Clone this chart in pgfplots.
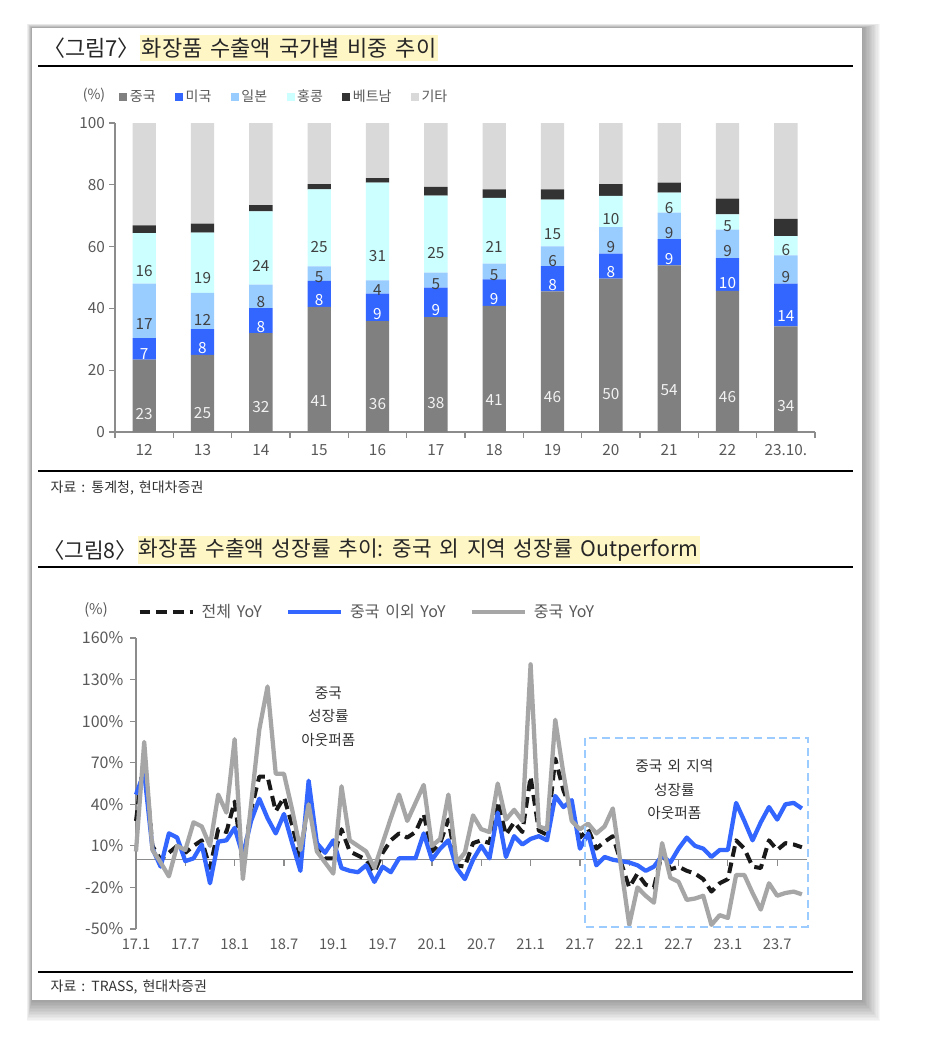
\documentclass[border=0pt]{standalone}
\usepackage{fontspec}
\setmainfont{Noto Sans CJK KR}[WordSpace=1.6]
\usepackage{pgfplots}
\pgfplotsset{compat=1.18}
\usepackage{pgfplotstable}

\definecolor{cn}{HTML}{808080}
\definecolor{us}{HTML}{3366FF}
\definecolor{jp}{HTML}{99CCFF}
\definecolor{hk}{HTML}{CCFFFF}
\definecolor{vn}{HTML}{333333}
\definecolor{ot}{HTML}{D9D9D9}
\definecolor{axisgray}{HTML}{8C8C8C}
\definecolor{labgray}{HTML}{595959}
\definecolor{hl}{HTML}{FFF6C6}
\definecolor{boxblue}{HTML}{9CCBFF}
\definecolor{lblue}{HTML}{3366FF}
\definecolor{lgray}{HTML}{A6A6A6}

\pgfplotstableread{
x  cn   us   jp   hk   vn  ot   cnL usL jpL hkL
0  23.4 7.0  17.6 16.4 2.5 33.1 23 7 17 16
1  25.0 8.3  11.7 19.5 2.9 32.6 25 8 12 19
2  32.0 8.1  7.6  23.7 2.0 26.6 32 8 8 24
3  40.5 8.4  4.7  24.9 1.7 19.8 41 8 5 25
4  35.9 8.9  4.3  31.6 1.5 17.8 36 9 4 31
5  37.2 9.5  4.9  24.9 2.8 20.7 38 9 5 25
6  40.8 8.6  5.1  21.3 2.7 21.5 41 9 5 21
7  45.5 8.2  6.4  15.1 3.3 21.5 46 8 6 15
8  49.6 8.1  8.6  10.1 3.8 19.8 50 8 9 10
9  53.9 8.5  8.6  6.5  3.2 19.3 54 9 9 6
10 45.7 10.6 9.2  4.9  5.1 24.5 46 10 9 5
11 34.2 13.8 9.2  6.2  5.6 31.0 34 14 9 6
}\bardata

\pgfplotstableread{
i tot non chn
0 28 47 6
1 75 63 85
2 10 8 7
3 0 -5 -2
4 5 19 -12
5 10 16 10
6 5 -1 7
7 10 1 27
8 14 11 24
9 -6 -17 10
10 22 13 47
11 20 14 34
12 42 23 87
13 -4 3 -14
14 36 28 40
15 60 44 94
16 60 30 125
17 35 19 62
18 45 33 62
19 25 12 36
20 1 -8 7
21 44 57 40
22 10 12 6
23 1 5 -2
24 1 14 -10
25 22 -6 53
26 6 -8 14
27 3 -9 10
28 0 -4 6
29 -9 -16 -6
30 5 -5 12
31 14 -9 30
32 19 1 47
33 16 1 28
34 20 1 41
35 33 19 54
36 6 0 10
37 12 8 15
38 29 14 47
39 -4 -6 -2
40 -5 -14 5
41 12 0 32
42 14 10 22
43 12 1 20
44 42 34 55
45 18 2 29
46 27 17 36
47 20 11 28
48 60 15 141
49 21 17 24
50 18 14 22
51 73 46 101
52 50 38 62
53 35 43 28
54 16 8 22
55 22 19 26
56 8 -4 19
57 13 2 24
58 17 0 37
59 -2 -1 -5
60 -20 -2 -47
61 -10 -4 -20
62 -18 -8 -26
63 -20 -5 -31
64 5 3 12
65 -7 -2 -13
66 -5 8 -16
67 -8 16 -29
68 -10 10 -28
69 -14 8 -26
70 -23 2 -47
71 -17 7 -40
72 -14 7 -42
73 14 41 -11
74 8 28 -11
75 -5 14 -24
76 -6 27 -36
77 14 38 -17
78 7 29 -26
79 12 40 -24
80 11 41 -23
81 9 37 -25
}\linedata

\begin{document}
\begin{tikzpicture}
\begin{scope}[x=0.75pt,y=-0.75pt]
\path[use as bounding box] (0,0) rectangle (926,1064);
\foreach \k in {1,...,14}{
  \fill[black,opacity=0.03] ({32-0.35*\k},{28-0.3*\k}) rectangle ({862+1.3*\k},{1000+1.5*\k});
}
\fill[white] (32,28) rectangle (862,1000);
% title 1
\node[anchor=west, inner xsep=0pt, font=\fontsize{16.5}{19}\selectfont, text=black!85] (t1) at (43,48) {〈그림7〉};
\node[anchor=west, inner xsep=1pt, inner ysep=2pt, fill=hl, font=\fontsize{16.5}{19}\selectfont, text=black!85] at (t1.east) {화장품 수출액 국가별 비중 추이};
\draw[line width=2pt] (38,66) -- (853,66);
\node[font=\fontsize{10.5}{12}\selectfont, text=labgray] at (94,95) {(\%)};
\draw[line width=2pt] (38,471) -- (853,471);
\node[anchor=west, font=\fontsize{10.5}{12}\selectfont, text=black!80] at (46,488) {자료 : 통계청, 현대차증권};
% title 2
\node[anchor=west, inner xsep=0pt, font=\fontsize{16}{19}\selectfont, text=black!85] (t2) at (43,550) {〈그림8〉};
\node[anchor=west, inner xsep=1pt, inner ysep=2pt, fill=hl, font=\fontsize{16}{19}\selectfont, text=black!85] at (t2.east) {화장품 수출액 성장률 추이: 중국 외 지역 성장률 Outperform};
\draw[line width=2pt] (38,567) -- (853,567);
\node[font=\fontsize{11}{12}\selectfont, text=labgray] at (96,610) {(\%)};
\draw[line width=2pt] (38,972) -- (853,972);
\node[anchor=west, font=\fontsize{10.5}{12}\selectfont, text=black!80] at (46,987) {자료 : TRASS, 현대차증권};
\end{scope}

% ---------------- bar chart ----------------
\begin{axis}[
  at={(86.25pt,-324pt)}, anchor=south west,
  scale only axis, width=525pt, height=231.75pt,
  xmin=-0.5, xmax=11.5, ymin=0, ymax=100,
  ybar stacked, bar width=17.5pt,
  axis lines*=left,
  axis line style={axisgray, line width=0.9pt},
  every tick/.style={axisgray, line width=0.9pt},
  tick align=outside,
  major tick length=0pt, minor tick length=4.5pt,
  ytick={0,20,40,60,80,100}, yticklabels={0,20,40,60,80,100},
  minor ytick={0,20,40,60,80,100},
  xtick={0,...,11}, xticklabels={12,13,14,15,16,17,18,19,20,21,22,23.10.},
  minor xtick={-0.5,0.5,...,11.5},
  tick label style={font=\fontsize{11.5}{13}\selectfont, text=labgray},
  yticklabel style={xshift=-4pt},
  xticklabel style={yshift=-6pt},
  legend columns=6,
  legend style={at={(0.0,1.084)}, anchor=west, draw=none, fill=none,
    font=\color{labgray}\fontsize{10.5}{12}\selectfont,
    /tikz/every even column/.append style={column sep=12.5pt}},
  legend image code/.code={\fill[#1] (0pt,-3pt) rectangle (6pt,3pt);},
  every node near coord/.append style={font=\fontsize{11.5}{13}\selectfont, anchor=center},
]
\addplot[fill=cn, draw=none, nodes near coords, point meta=explicit symbolic,
  visualization depends on={\thisrow{cn} \as \rawy},
  every node near coord/.append style={text=white!95!black, yshift={-\rawy*0.579375pt}}]
  table[x=x, y=cn, meta=cnL] {\bardata};
\addlegendentry{중국}
\addplot[fill=us, draw=none, nodes near coords, point meta=explicit symbolic,
  visualization depends on={\thisrow{us} \as \rawy},
  every node near coord/.append style={text=white, yshift={-\rawy*0.579375pt}}]
  table[x=x, y=us, meta=usL] {\bardata};
\addlegendentry{미국}
\addplot[fill=jp, draw=none, nodes near coords, point meta=explicit symbolic,
  visualization depends on={\thisrow{jp} \as \rawy},
  every node near coord/.append style={text=black!75, yshift={-\rawy*0.579375pt}}]
  table[x=x, y=jp, meta=jpL] {\bardata};
\addlegendentry{일본}
\addplot[fill=hk, draw=none, nodes near coords, point meta=explicit symbolic,
  visualization depends on={\thisrow{hk} \as \rawy},
  every node near coord/.append style={text=black!75, yshift={-\rawy*0.579375pt}}]
  table[x=x, y=hk, meta=hkL] {\bardata};
\addlegendentry{홍콩}
\addplot[fill=vn, draw=none] table[x=x, y=vn] {\bardata};
\addlegendentry{베트남}
\addplot[fill=ot, draw=none] table[x=x, y=ot] {\bardata};
\addlegendentry{기타}
\end{axis}

% ---------------- line chart ----------------
\begin{axis}[
  at={(102pt,-696.75pt)}, anchor=south west,
  scale only axis, width=503.1pt, height=218.25pt,
  xmin=0, xmax=81.6, ymin=-50, ymax=160,
  clip=false,
  axis lines*=left,
  x axis line style={draw=none},
  y axis line style={axisgray, line width=0.9pt},
  every tick/.style={axisgray, line width=0.9pt},
  tick align=outside, major tick length=0pt, minor tick length=4.5pt,
  ytick={-50,-20,...,160}, minor ytick={-50,-20,...,160},
  yticklabels={-50\%,-20\%,10\%,40\%,70\%,100\%,130\%,160\%},
  xtick={0,6,...,78},
  xticklabels={17.1,17.7,18.1,18.7,19.1,19.7,20.1,20.7,21.1,21.7,22.1,22.7,23.1,23.7},
  tick label style={font=\fontsize{11}{13}\selectfont, text=labgray},
  yticklabel style={xshift=-6pt, font=\fontsize{12}{14}\selectfont},
  xticklabel style={yshift=-4pt},
  legend columns=3,
  legend style={at={(-0.004,1.089)}, anchor=west, draw=none, fill=none,
    font=\color{labgray}\fontsize{12}{14}\selectfont,
    /tikz/every even column/.append style={column sep=16pt}},
  legend image code/.code={\draw[#1] (0pt,0pt) -- (40pt,0pt); \path (43pt,0pt);},
]
\draw[axisgray, line width=0.9pt] (axis cs:0,0) -- (axis cs:81.6,0);
\pgfplotsinvokeforeach{6,12,...,78}{\draw[axisgray, line width=0.9pt] (axis cs:#1,0) -- ++(0pt,-4.5pt);}
\addplot[black!90, line width=3pt, dash pattern=on 8pt off 4.5pt, line join=round] table[x=i, y=tot] {\linedata};
\addlegendentry{전체 YoY}
\addplot[lblue, line width=3.2pt, line join=round] table[x=i, y=non] {\linedata};
\addlegendentry{중국 이외 YoY}
\addplot[lgray, line width=3.2pt, line join=round] table[x=i, y=chn] {\linedata};
\addlegendentry{중국 YoY}
\draw[boxblue, line width=1.6pt, dash pattern=on 6pt off 3.5pt] (axis cs:54.6,88) rectangle (axis cs:81.7,-48.3);
\node[align=center, font=\fontsize{11}{17.5}\selectfont, text=black!80] at (axis cs:23.4,103.3) {중국\\성장률\\아웃퍼폼};
\node[align=center, font=\fontsize{11}{17.5}\selectfont, text=black!80] at (axis cs:65.5,50.5) {중국 외 지역\\성장률\\아웃퍼폼};
\end{axis}
\end{tikzpicture}
\end{document}
